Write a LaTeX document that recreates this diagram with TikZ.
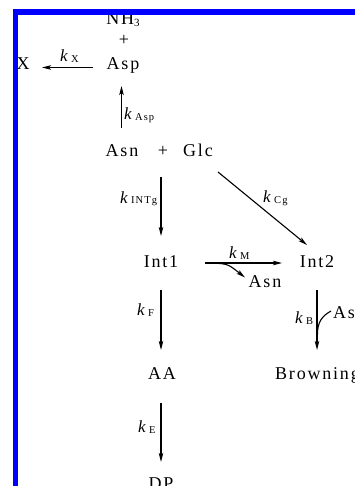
\documentclass[tikz,border=0pt]{standalone}
\usepackage{fontspec}
\setmainfont[LetterSpace=10]{Liberation Serif}
\usetikzlibrary{arrows.meta}
\newcommand\kk[1]{\textit{k}\hspace{1.5pt}\raisebox{-1pt}{\fontsize{10.5}{11}\selectfont #1}}
\begin{document}
\begin{tikzpicture}[x=1pt,y=-1pt,
  lbl/.style={inner sep=0pt, anchor=base, font=\fontsize{18}{20}\selectfont},
  lblw/.style={inner sep=0pt, anchor=base west, font=\fontsize{18}{20}\selectfont},
  klbl/.style={inner sep=0pt, anchor=base west, font=\fontsize{17}{20}\selectfont},
  arr/.style={line width=1.1pt, -{Stealth[length=9pt,width=4.5pt,inset=2pt]}},
  ln/.style={line width=1.1pt}]
\useasboundingbox (0,0) rectangle (355,486);
\begin{scope}
\clip (0,0) rectangle (355,486);
% species
\node[lbl] (nh3) at (123,25) {NH\raisebox{-2pt}{\fontsize{11}{11}\selectfont 3}};
\node[lbl] (plus1) at (124,45.5) {+};
\node[lbl] (asp) at (123,70) {Asp};
\node[lbl] (x) at (23,70) {X};
\node[lbl] (asn) at (122,157) {Asn};
\node[lbl] (plus2) at (163,157) {+};
\node[lbl] (glc) at (198,157) {Glc};
\node[lbl] (int1) at (161,267) {Int1};
\node[lbl] (int2) at (317,267) {Int2};
\node[lbl] (asnb) at (265,287) {Asn};
\node[lblw] (asc) at (333,318) {Asn};
\node[lbl] (aa) at (162,379) {AA};
\node[lblw] (brown) at (275,379) {Browning};
\node[lbl] (dp) at (161,489) {DP};
% rate labels
\node[klbl] (kx) at (60,62) {\kk{X}};
\node[klbl] (kasp) at (124,120) {\kk{Asp}};
\node[klbl] (kint) at (120,203) {\kk{INTg}};
\node[klbl] (kcg) at (263,202) {\kk{Cg}};
\node[klbl] (km) at (229,258) {\kk{M}};
\node[klbl] (kf) at (137,315) {\kk{F}};
\node[klbl] (kb) at (295,323) {\kk{B}};
\node[klbl] (ke) at (138,432) {\kk{E}};
% arrow end points
\coordinate (a1) at (93,67.5);  \coordinate (a2) at (42,67.5);
\coordinate (b1) at (121.5,128); \coordinate (b2) at (121.5,86);
\coordinate (c1) at (161,177);  \coordinate (c2) at (161,236);
\coordinate (d1) at (218,172);  \coordinate (d2) at (307,245);
\coordinate (e1) at (205,263);  \coordinate (e2) at (282,263);
\coordinate (f1) at (213,263);  \coordinate (f2) at (245,277.5);
\coordinate (g1) at (161,290);  \coordinate (g2) at (161,350);
\coordinate (h1) at (317,290);  \coordinate (h2) at (317,350);
\coordinate (i1) at (331,311);  \coordinate (i2) at (317.5,334);
\coordinate (j1) at (161,403);  \coordinate (j2) at (161,462);
% connectors
\draw[arr] (a1) -- (a2);
\draw[arr] (b1) -- (b2);
\draw[arr] (c1) -- (c2);
\draw[arr] (d1) -- (d2);
\draw[arr] (e1) -- (e2);
\draw[arr] (f1) .. controls (228,264) .. (f2);
\draw[arr] (g1) -- (g2);
\draw[arr] (h1) -- (h2);
\draw[ln] (i1) .. controls (322,316) and (317.5,322) .. (i2);
\draw[arr] (j1) -- (j2);
\end{scope}
% blue frame
\fill[blue] (12.5,9.5) rectangle (355,15);
\fill[blue] (12.5,9.5) rectangle (17.5,486);
\end{tikzpicture}
\end{document}
